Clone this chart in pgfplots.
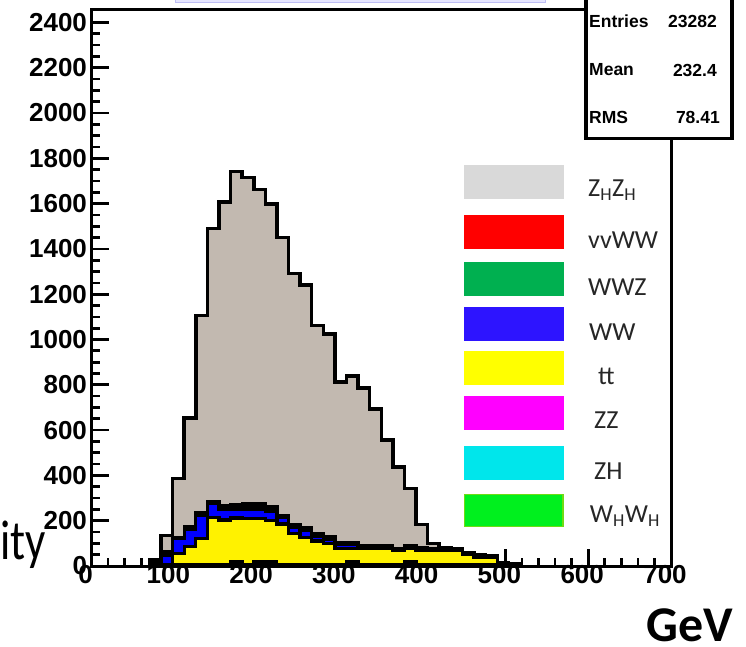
\documentclass[border=0pt]{standalone}
\usepackage{pgfplots}
\pgfplotsset{compat=1.18}
\usepackage{fontspec}
\setmainfont{Carlito}
\newfontfamily\rootfont{Liberation Sans}
\newcommand\tickfont{\rootfont\bfseries\fontsize{26}{26}\selectfont}
\newcommand\statfont{\rootfont\bfseries\fontsize{17.5}{17.5}\selectfont}
\definecolor{zhgray}{RGB}{194,185,176}
\definecolor{leggray}{RGB}{217,217,217}
\definecolor{legred}{RGB}{255,0,0}
\definecolor{leggreen}{RGB}{0,176,80}
\definecolor{legblue}{RGB}{45,20,255}
\definecolor{legyellow}{RGB}{255,255,0}
\definecolor{legmag}{RGB}{255,0,255}
\definecolor{legcyan}{RGB}{0,230,235}
\definecolor{leglime}{RGB}{0,240,30}
\definecolor{limeedge}{RGB}{110,220,20}
\definecolor{histblue}{RGB}{0,0,255}
\definecolor{lavfill}{RGB}{230,230,255}
\definecolor{lavedge}{RGB}{190,190,245}
\begin{document}
\begin{tikzpicture}
\useasboundingbox (0pt,0pt) rectangle (746pt,646pt);
\filldraw[fill=lavfill, draw=lavedge, line width=1pt] (175pt,643.5pt) rectangle (545pt,660pt);
\begin{axis}[
  at={(91.5pt,80pt)}, anchor=south west,
  scale only axis, width=579.5pt, height=556pt,
  xmin=0, xmax=700, ymin=0, ymax=2455,
  xtick={0,100,...,700}, ytick={0,200,...,2400},
  minor x tick num=4, minor y tick num=3,
  tick pos=left, tick align=inside,
  major tick length=17pt, minor tick length=8pt,
  tick style={line width=2.7pt, black},
  axis line style={line width=3pt},
  /pgf/number format/assume math mode=true,
  /pgf/number format/1000 sep={},
  xticklabel style={font=\tickfont, yshift=4pt, xshift=-6pt},
  yticklabel style={font=\tickfont, xshift=-1pt},
  line join=miter,
]
\addplot[const plot, fill=zhgray, draw=black, line width=3.5pt] coordinates {
(70,0)(70,28)(84,134)(98,386)(112,653)(126,1105)(140,1491)(154,1608)(168,1741)(182,1716)(196,1663)(210,1598)(224,1451)(238,1292)(252,1241)(266,1062)(280,1024)(294,812)(308,839)(322,786)(336,693)(350,556)(364,438)(378,343)(392,183)(406,100)(420,80)(434,78)(448,60)(462,48)(476,46)(490,15)(504,8)(518,0)
} \closedcycle;
\addplot[const plot, fill=black, draw=black, line width=3.3pt] coordinates {
(70,0)(70,28)(84,62)(98,127)(112,172)(126,235)(140,284)(154,265)(168,272)(182,277)(196,277)(210,262)(224,224)(238,184)(252,171)(266,144)(280,130)(294,105)(308,105)(322,92)(336,92)(350,92)(364,78)(378,92)(392,80)(406,78)(420,78)(434,78)(448,60)(462,48)(476,46)(490,15)(504,8)(518,0)
} \closedcycle;
\addplot[const plot, fill=histblue, draw=black, line width=3.3pt] coordinates {
(84,0)(84,49)(98,122)(112,160)(126,225)(140,276)(154,250)(168,251)(182,251)(196,251)(210,240)(224,213)(238,170)(252,158)(266,133)(280,118)(294,95)(308,95)(322,85)(336,85)(350,85)(364,72)(378,85)(392,74)(406,72)(420,72)(434,72)(448,55)(462,44)(476,42)(490,0)
} \closedcycle;
\addplot[const plot, fill=yellow, draw=black, line width=3.3pt] coordinates {
(84,0)(84,5)(98,54)(112,85)(126,122)(140,213)(154,203)(168,212)(182,210)(196,210)(210,200)(224,186)(238,144)(252,127)(266,110)(280,100)(294,78)(308,78)(322,78)(336,78)(350,78)(364,70)(378,78)(392,70)(406,70)(420,70)(434,70)(448,51)(462,40)(476,38)(490,0)
} \closedcycle;
\addplot[const plot, fill=black, draw=black, line width=3pt] coordinates {
(98,0)(98,5)(112,8)(126,8)(140,8)(154,8)(168,22)(182,8)(196,22)(210,22)(224,8)(238,8)(252,8)(266,8)(280,8)(294,8)(308,20)(322,8)(336,8)(350,8)(364,8)(378,20)(392,8)(406,8)(420,8)(434,8)(448,8)(462,8)(476,8)(490,0)
} \closedcycle;
\end{axis}
% statistics box
\filldraw[fill=white, draw=black, line width=3.5pt] (585.8pt,507.3pt) rectangle (731.8pt,665pt);
\node[anchor=west, inner sep=0pt, font=\statfont] at (589pt,624.3pt) {Entries};
\node[anchor=east, inner sep=0pt, font=\statfont] at (717pt,624.3pt) {23282};
\node[anchor=west, inner sep=0pt, font=\statfont] at (589pt,576pt) {Mean};
\node[anchor=east, inner sep=0pt, font=\statfont] at (717pt,576pt) {232.4};
\node[anchor=west, inner sep=0pt, font=\statfont] at (589pt,528.7pt) {RMS};
\node[anchor=east, inner sep=0pt, font=\statfont] at (720pt,528.7pt) {78.41};
% legend
\fill[leggray] (464pt,447pt) rectangle (563.7pt,481pt);
\fill[legred] (464pt,397pt) rectangle (563.7pt,431pt);
\fill[leggreen] (464pt,349.7pt) rectangle (563.7pt,383.7pt);
\fill[legblue] (464pt,304.7pt) rectangle (563.7pt,338.7pt);
\fill[legyellow] (464pt,261.3pt) rectangle (563.7pt,295.3pt);
\fill[legmag] (464pt,216.3pt) rectangle (563.7pt,250.3pt);
\fill[legcyan] (464pt,166.3pt) rectangle (563.7pt,199.7pt);
\filldraw[fill=leglime, draw=limeedge, line width=1.5pt] (464.7pt,119.4pt) rectangle (563pt,151.3pt);
\begin{scope}[every node/.style={anchor=base west, inner sep=0pt, font=\fontsize{26}{26}\selectfont, text=black!85}]
\node at (588pt,449.3pt) {Z\textsubscript{H}Z\textsubscript{H}};
\node at (588pt,397.7pt) {vvWW};
\node at (588pt,351pt) {WWZ};
\node at (589pt,305.7pt) {WW};
\node at (598pt,261.3pt) {tt};
\node at (594pt,218pt) {ZZ};
\node at (594pt,167pt) {ZH};
\node at (589.7pt,123.7pt) {W\textsubscript{H}W\textsubscript{H}};
\end{scope}
\node[anchor=base east, inner sep=0pt, font=\fontsize{56}{56}\selectfont, xscale=0.8] at (46pt,87pt) {ity};
\node[anchor=base east, inner sep=0pt, font=\bfseries\fontsize{50}{50}\selectfont] at (733pt,5pt) {GeV};
\end{tikzpicture}
\end{document}
